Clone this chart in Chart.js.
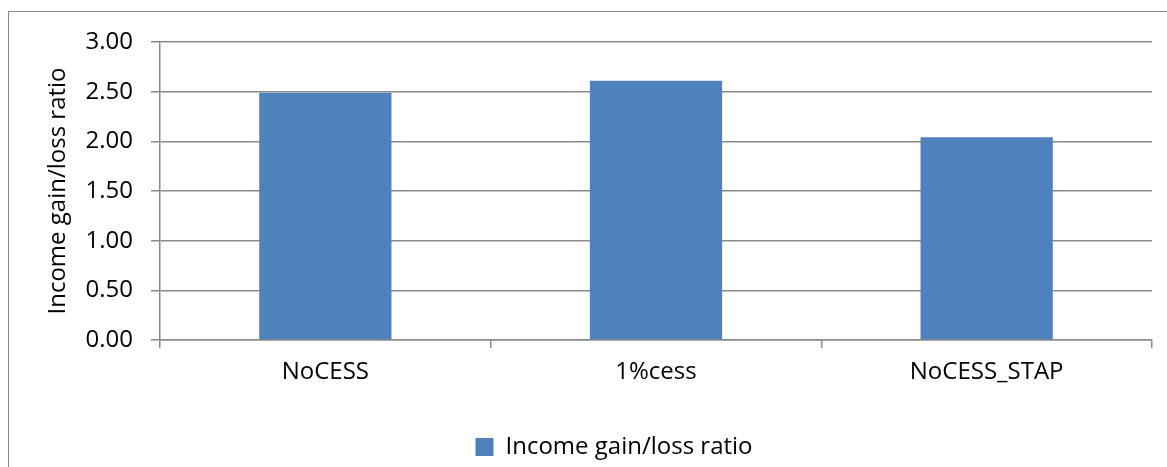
<!DOCTYPE html>
<html>
<head>
<meta charset="utf-8">
<script src="https://cdn.jsdelivr.net/npm/chart.js@4/dist/chart.umd.min.js"></script>
<style>
  html, body { margin: 0; padding: 0; background: #fff; }
  #wrap { position: relative; width: 1167px; height: 467px; }
  canvas { display: block; }
</style>
</head>
<body>
<div id="wrap"><canvas id="c" width="1167" height="467"></canvas></div>
<script>
const categories = ["NoCESS", "1%cess", "NoCESS_STAP"];
const seriesName = "Income gain/loss ratio";
const seriesValues = [2.49, 2.61, 2.04];
const yTickValues = [0, 0.5, 1, 1.5, 2, 2.5, 3];
const axisTitle = "Income gain/loss ratio";

const FONT = "'Open Sans', 'Liberation Sans', sans-serif";
const FSIZE = 24;
const GRID = "#8a8a8a";

const framePlugin = {
  id: 'frame',
  beforeDraw(chart) {
    const ctx = chart.ctx;
    ctx.save();
    ctx.fillStyle = '#fff';
    ctx.fillRect(0, 0, chart.width, chart.height);
    ctx.strokeStyle = '#8a8a8a';
    ctx.lineWidth = 1;
    ctx.strokeRect(8.5, 11.5, 1400, 600);
    ctx.restore();
  }
};

const legendShift = {
  id: 'legendShift',
  afterLayout(chart) {
    const lg = chart.legend;
    if (lg) {
      lg.left += 38; lg.right += 38;
      lg.top += 2; lg.bottom += 2;
    }
  }
};

new Chart(document.getElementById('c'), {
  type: 'bar',
  data: {
    labels: categories,
    datasets: [{
      label: seriesName,
      data: seriesValues,
      backgroundColor: '#4F81BD',
      borderWidth: 0,
      barPercentage: 0.40,
      categoryPercentage: 1.0
    }]
  },
  plugins: [framePlugin, legendShift],
  options: {
    responsive: false,
    animation: false,
    devicePixelRatio: 1,
    layout: { padding: { left: 0, right: 15, top: 42, bottom: 0 } },
    plugins: {
      tooltip: { enabled: false },
      legend: {
        position: 'bottom',
        labels: {
          boxWidth: 18,
          boxHeight: 18,
          padding: 10,
          color: '#000',
          font: { family: FONT, size: FSIZE }
        }
      }
    },
    scales: {
      x: {
        grid: {
          offset: true,
          drawOnChartArea: false,
          drawTicks: true,
          tickLength: 8,
          color: GRID,
          lineWidth: 1.5
        },
        border: { display: true, color: GRID, width: 1.5 },
        ticks: {
          color: '#000',
          padding: 10,
          maxRotation: 0,
          font: { family: FONT, size: FSIZE }
        },
        afterFit(scale) { scale.height = 83; }
      },
      y: {
        min: 0,
        max: 3,
        afterBuildTicks(scale) {
          scale.ticks = yTickValues.map(v => ({ value: v }));
        },
        grid: {
          drawTicks: true,
          tickLength: 9,
          color: GRID,
          lineWidth: 1.5
        },
        border: { display: true, color: GRID, width: 1.5 },
        ticks: {
          color: '#000',
          padding: 18,
          font: { family: FONT, size: FSIZE },
          callback: (v) => Number(v).toFixed(2)
        },
        title: {
          display: true,
          text: axisTitle,
          color: '#000',
          padding: { top: 44, bottom: 0 },
          font: { family: FONT, size: FSIZE }
        },
        afterFit(scale) { scale.width = 160; }
      }
    }
  }
});
</script>
</body>
</html>
